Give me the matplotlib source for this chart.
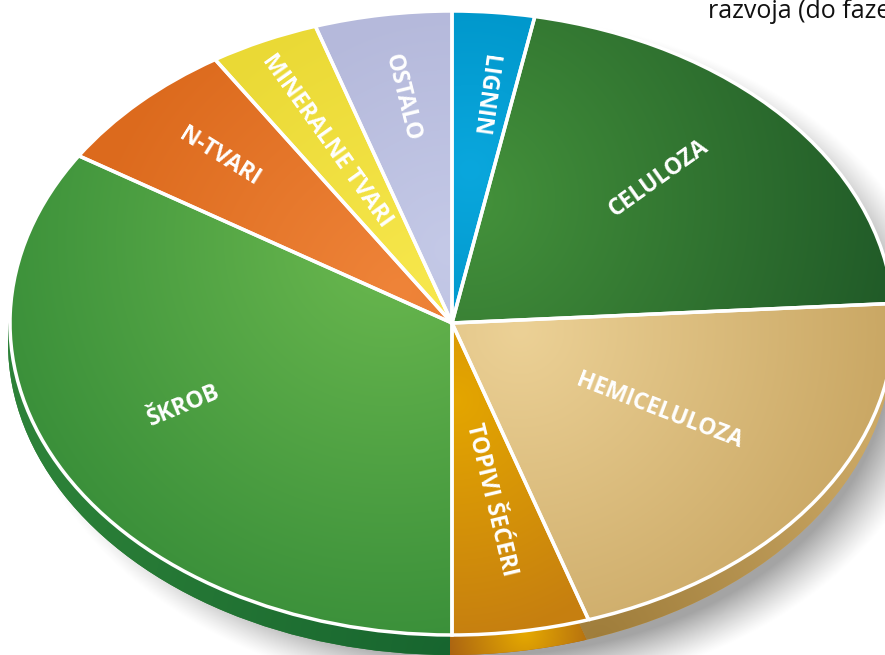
import numpy as np
import matplotlib
matplotlib.use("Agg")
import matplotlib.pyplot as plt
from matplotlib.colors import to_rgb

categories = ["LIGNIN", "CELULOZA", "HEMICELULOZA", "TOPIVI ŠEĆERI", "ŠKROB",
              "N-TVARI", "MINERALNE TVARI", "OSTALO"]
shares = [3, 21, 21, 5, 34, 7, 4, 5]

W, H = 885, 655
CX, CY, RX, RY = 452, 323, 442, 312
DEPTH = 20

# inner colour, outer colour, gradient focus (px), gradient radius (px)
top_fill = [
    ("#0AA7DD", "#0097CB", (470, 170), 170),
    ("#44923B", "#1F5827", (470, 200), 450),
    ("#ECD196", "#C7A460", (520, 330), 400),
    ("#E4A600", "#C67F10", (455, 400), 240),
    ("#6BB94F", "#368C38", (390, 240), 440),
    ("#EF8439", "#DC6A1D", (400, 290), 320),
    ("#F7E74C", "#EAD935", (430, 290), 300),
    ("#C4C9E7", "#B5B9DB", (450, 250), 240),
]
side_fill = [
    ("#0097CB", "#0097CB", (470, 170), 170),
    ("#1F5827", "#1F5827", (480, 210), 440),
    ("#9F7D3B", "#CBA865", (600, 640), 330),
    ("#E6AA00", "#A65E14", (525, 632), 85),
    ("#17652F", "#2C8138", (452, 655), 430),
    ("#D76417", "#D76417", (400, 290), 320),
    ("#E7D733", "#E7D733", (430, 290), 300),
    ("#B5B9DB", "#B5B9DB", (450, 250), 240),
]

label_pos = [(484, 95), (659, 178), (659, 411), (491, 500), (184, 406),
             (220, 157), (327, 141), (402, 98)]
label_rot = [-98, 35.5, -21, -76.5, 22.5, -32, -54.5, -76]

yy, xx = np.mgrid[0:H, 0:W] + 0.5
xlim = (-CX / RX, (W - CX) / RX)
ylim = ((CY - H) / RY, CY / RY)
extent = (xlim[0], xlim[1], ylim[0], ylim[1])


def gradient_fill(ax, wedge, inner, outer, focus, radius, zorder):
    t = np.clip(np.hypot(xx - focus[0], yy - focus[1]) / radius, 0, 1)[..., None]
    rgb = np.array(to_rgb(inner)) * (1 - t) + np.array(to_rgb(outer)) * t
    im = ax.imshow(rgb, extent=extent, origin="upper", aspect="auto",
                   interpolation="bilinear", zorder=zorder)
    im.set_clip_path(wedge)


fig = plt.figure(figsize=(W / 100, H / 100), dpi=100)
ax = fig.add_axes([0, 0, 1, 1])

# soft drop shadow under the disc
d = np.hypot((xx - 482) / 438, (yy - 356) / 322)
alpha = np.clip((1.06 - d) / 0.13, 0, 1) ** 1.2 * 0.36
shadow = np.dstack([np.zeros((H, W, 3)), alpha])
ax.imshow(shadow, extent=extent, origin="upper", aspect="auto", zorder=0)

# disc wall
side, _ = ax.pie(shares, startangle=90, counterclock=False, radius=1,
                 center=(-2 / RX, -DEPTH / RY), colors=[f[1] for f in side_fill],
                 wedgeprops={"linewidth": 0})
for w, f in zip(side, side_fill):
    w.set_zorder(1)
    gradient_fill(ax, w, *f, zorder=1.5)

# top face
top, _ = ax.pie(shares, startangle=90, counterclock=False, radius=1,
                colors=[f[1] for f in top_fill], wedgeprops={"linewidth": 0})
for w, f in zip(top, top_fill):
    w.set_zorder(2)
    gradient_fill(ax, w, *f, zorder=2.5)

# white separators on top of the gradients
rim, _ = ax.pie(shares, startangle=90, counterclock=False, radius=1,
                colors=["none"] * len(shares),
                wedgeprops={"linewidth": 2.5, "edgecolor": "white", "facecolor": "none"})
for w in rim:
    w.set_zorder(3)

for name, (px, py), rot in zip(categories, label_pos, label_rot):
    ax.text((px - CX) / RX, (CY - py) / RY, name, color="white", fontsize=16.5,
            fontweight="bold", family="Open Sans", rotation=rot,
            rotation_mode="anchor", ha="center", va="center", zorder=4)

ax.text((708 - CX) / RX, (CY - 18) / RY, "razvoja (do faze", color="#111111",
        fontsize=18, family="Open Sans", ha="left", va="baseline", zorder=4)

ax.set_aspect("auto")
ax.set_xlim(xlim)
ax.set_ylim(ylim)
ax.axis("off")

fig.savefig("out.png", dpi=100, facecolor="white")
